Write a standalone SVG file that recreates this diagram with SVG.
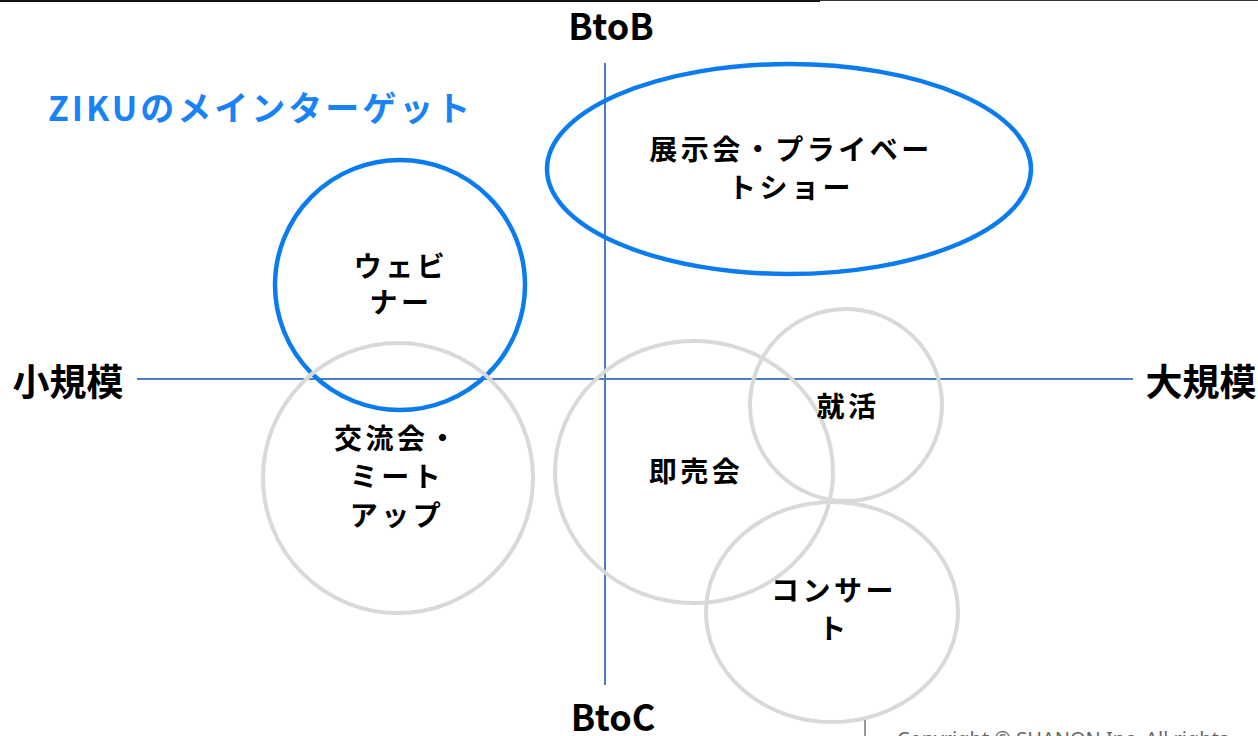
<svg xmlns="http://www.w3.org/2000/svg" width="1258" height="736" viewBox="0 0 1258 736">
<style>
.t{font-family:"Noto Sans CJK JP","Noto Sans",sans-serif;font-weight:bold;fill:#000;text-anchor:middle}
.lab{font-size:28px;letter-spacing:3.5px}
.ax{font-size:37px}
.blue{fill:none;stroke:#0a7cf0;stroke-width:4.5}
.gray{fill:none;stroke:#d9d9d9;stroke-width:4}
.axis{stroke:#4a7ec4;stroke-width:2}
</style>
<rect width="1258" height="736" fill="#fff"/>
<line x1="0" y1="1" x2="820" y2="1" stroke="#111" stroke-width="2"/>
<line x1="820" y1="0.5" x2="1258" y2="0.5" stroke="#333" stroke-width="1"/>
<g id="axes">
<line class="axis" x1="605" y1="63" x2="605" y2="685"/>
<line class="axis" x1="137" y1="379" x2="1133" y2="379"/>
</g>
<g id="axis-labels">
<text class="t" x="611" y="40" font-size="36">BtoB</text>
<text class="t" x="613" y="731" font-size="36">BtoC</text>
<text class="t ax" x="68" y="396">小規模</text>
<text class="t ax" x="1201" y="396">大規模</text>
</g>
<text id="title" x="48" y="121" font-family="'Noto Sans CJK JP','Noto Sans',sans-serif" font-weight="bold" font-size="34" letter-spacing="3" fill="#1a82f7">ZIKUのメインターゲット</text>
<g id="node-expo">
<ellipse class="blue" cx="789" cy="169" rx="242" ry="105"/>
<text class="t lab" x="791" y="160">展示会・プライベー</text>
<text class="t lab" x="791" y="198">トショー</text>
</g>
<g id="node-webinar">
<circle class="blue" cx="400" cy="285" r="125"/>
<text class="t lab" x="401" y="277">ウェビ</text>
<text class="t lab" x="401" y="313">ナー</text>
</g>
<g id="node-meetup">
<circle class="gray" cx="398" cy="478" r="135"/>
<text class="t lab" x="397" y="449">交流会・</text>
<text class="t lab" x="397" y="487">ミート</text>
<text class="t lab" x="397" y="526">アップ</text>
</g>
<g id="node-sokubai">
<ellipse class="gray" cx="694" cy="472" rx="139" ry="131"/>
<text class="t lab" x="696" y="482">即売会</text>
</g>
<g id="node-shukatsu">
<circle class="gray" cx="846" cy="405" r="96"/>
<text class="t lab" x="848" y="417">就活</text>
</g>
<g id="node-concert">
<ellipse class="gray" cx="832" cy="612" rx="126" ry="110"/>
<text class="t lab" x="834" y="601">コンサー</text>
<text class="t lab" x="834" y="639">ト</text>
</g>
<g id="footer">
<line x1="865" y1="720" x2="865" y2="736" stroke="#333" stroke-width="1"/>
<text x="897" y="746" font-family="'Noto Sans','Open Sans',sans-serif" font-size="20" fill="#666">Copyright © SHANON Inc. All rights</text>
</g>
</svg>
